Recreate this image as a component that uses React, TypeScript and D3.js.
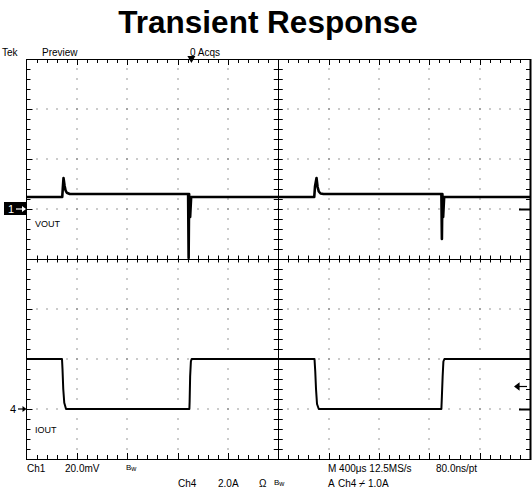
import React from 'react';
import * as d3 from 'd3';

const W = 532;
const H = 490;

const titleText = 'Transient Response';
const headerLabels = ['Tek', 'Preview', '0 Acqs'];
const ch1Label = 'VOUT';
const ch4Label = 'IOUT';

// time in microseconds, VOUT in mV (relative to Ch1 ground marker)
const voutT = [0, 284, 288, 294, 302, 310, 320, 344, 1284, 1288, 1292, 1300, 1308, 2286, 2292, 2304, 2312, 2322, 2336, 2360, 3296, 3300, 3304, 3310, 3318, 4000];
const voutMv = [4.8, 4.8, 8, 12.4, 9.5, 7.5, 6.5, 6.0, 6.0, -19.6, 6.0, -3.2, 4.8, 4.8, 9, 12.4, 9, 7, 6.2, 6.0, 6.0, -12, 6.0, -3.2, 4.8, 4.8];

// IOUT in A
const ioutT = [0, 282, 286, 292, 300, 314, 1294, 1296, 1300, 1306, 1312, 2288, 2294, 2300, 2308, 2322, 3296, 3300, 3306, 3312, 3320, 4000];
const ioutA = [2.0, 2.0, 1.6, 0.8, 0.25, 0.0, 0.0, 0.3, 1.3, 1.9, 2.0, 2.0, 1.5, 0.8, 0.2, 0.0, 0.0, 0.5, 1.3, 1.9, 2.0, 2.0];

const xDivs = 10;
const yDivs = 8;
const minorPerDiv = 5;
const timePerDiv = 400; // us
const ch1PerDiv = 20; // mV
const ch4PerDiv = 2; // A
const ch1OffsetDiv = 1;
const ch4OffsetDiv = -3;
const triggerTime = 1310;
const triggerLevelA = 0.9;

const L = 26.5, R = 530, T = 59, B = 459;
const FONT = '"Liberation Sans", Arial, sans-serif';

export default function App() {
  const x = d3.scaleLinear().domain([0, xDivs * timePerDiv]).range([L, R]);
  const yDiv = d3.scaleLinear().domain([-yDivs / 2, yDivs / 2]).range([B, T]);
  const xDivScale = d3.scaleLinear().domain([0, xDivs]).range([L, R]);
  const y1 = (v: number) => yDiv(ch1OffsetDiv + v / ch1PerDiv);
  const y4 = (a: number) => yDiv(ch4OffsetDiv + a / ch4PerDiv);

  const voutData = voutT.map((t, i) => [t, voutMv[i]] as [number, number]);
  const ioutData = ioutT.map((t, i) => [t, ioutA[i]] as [number, number]);
  const line1 = d3.line<[number, number]>().x(d => x(d[0])).y(d => y1(d[1]));
  const line4 = d3.line<[number, number]>().x(d => x(d[0])).y(d => y4(d[1]));

  const dots: JSX.Element[] = [];
  for (let i = 1; i < xDivs; i++) {
    if (i === xDivs / 2) continue;
    const xx = Math.round(xDivScale(i));
    for (let j = 1; j < yDivs * minorPerDiv; j++) {
      const yy = Math.round(yDiv(-yDivs / 2 + j / minorPerDiv));
      dots.push(<rect key={`v${i}-${j}`} x={xx - 0.5} y={yy - 0.5} width={1} height={1} fill="#333" />);
    }
  }
  for (let j = 1; j < yDivs; j++) {
    if (j === yDivs / 2) continue;
    const yy = Math.round(yDiv(-yDivs / 2 + j));
    for (let i = 1; i < xDivs * minorPerDiv; i++) {
      const xx = Math.round(xDivScale(i / minorPerDiv));
      dots.push(<rect key={`h${j}-${i}`} x={xx - 0.5} y={yy - 0.5} width={1} height={1} fill="#333" />);
    }
  }

  const ticks: JSX.Element[] = [];
  const cx = xDivScale(xDivs / 2);
  const cy = yDiv(0);
  for (let i = 1; i < xDivs * minorPerDiv; i++) {
    const xx = Math.round(xDivScale(i / minorPerDiv)) + 0.5;
    const major = i % minorPerDiv === 0;
    const len = major ? 6 : 4;
    ticks.push(<line key={`tt${i}`} x1={xx} x2={xx} y1={T} y2={T + len} />);
    ticks.push(<line key={`tb${i}`} x1={xx} x2={xx} y1={B} y2={B - len} />);
    ticks.push(<line key={`tc${i}`} x1={xx} x2={xx} y1={cy - 3.5} y2={cy + 3.5} />);
  }
  for (let j = 1; j < yDivs * minorPerDiv; j++) {
    const yy = Math.round(yDiv(-yDivs / 2 + j / minorPerDiv)) + 0.5;
    const major = j % minorPerDiv === 0;
    const len = major ? 6 : 4;
    ticks.push(<line key={`tl${j}`} x1={L} x2={L + len} y1={yy} y2={yy} />);
    ticks.push(<line key={`tr${j}`} x1={R} x2={R - len} y1={yy} y2={yy} />);
    ticks.push(<line key={`tv${j}`} x1={cx - 4.5} x2={cx + 4.5} y1={yy} y2={yy} />);
  }

  const g1 = y1(0);
  const g4 = y4(0);
  const trigX = x(triggerTime);
  const trigY = y4(triggerLevelA);

  return (
    <svg width={W} height={H} style={{ display: 'block', position: 'absolute', left: 0, top: 0 }} fontFamily={FONT}>
      <rect x={0} y={0} width={W} height={H} fill="#fff" />
      <text x={268} y={33} textAnchor="middle" fontSize={31.5} fontWeight="bold" fill="#000">{titleText}</text>

      <text x={2} y={56} fontSize={10} fill="#000">{headerLabels[0]}</text>
      <text x={42} y={56} fontSize={10} fill="#000">{headerLabels[1]}</text>
      <text x={190} y={56} fontSize={10} fill="#000">{headerLabels[2]}</text>

      {dots}
      <g stroke="#000" strokeWidth={1}>
        {ticks}
        <line x1={L} x2={R} y1={Math.round(cy) + 0.5} y2={Math.round(cy) + 0.5} />
        <line x1={Math.round(cx) + 0.5} x2={Math.round(cx) + 0.5} y1={T} y2={B} />
        <line x1={L} x2={R} y1={T + 0.5} y2={T + 0.5} />
        <line x1={L} x2={R} y1={B + 0.5} y2={B + 0.5} />
        <line x1={L} x2={L} y1={T} y2={B + 1} />
        <line x1={R + 0.5} x2={R + 0.5} y1={T} y2={B + 1} strokeWidth={2} />
        <line x1={R - 11} x2={R} y1={Math.round(g1) + 0.5} y2={Math.round(g1) + 0.5} strokeWidth={2} />
        <line x1={R - 11} x2={R} y1={Math.round(g4) + 0.5} y2={Math.round(g4) + 0.5} strokeWidth={2} />
      </g>

      <path d={line1(voutData) || ''} fill="none" stroke="#000" strokeWidth={2.6} strokeLinejoin="round" />
      <path d={line4(ioutData) || ''} fill="none" stroke="#000" strokeWidth={2} strokeLinejoin="round" />

      <polygon points={`${trigX - 4},${T - 3} ${trigX + 4},${T - 3} ${trigX},${T + 4}`} fill="#000" />
      <g stroke="#000" strokeWidth={1.2} fill="#000">
        <line x1={R - 14} x2={R - 3} y1={trigY} y2={trigY} />
        <polygon points={`${R - 15},${trigY} ${R - 11},${trigY - 3} ${R - 11},${trigY + 3}`} />
      </g>

      <rect x={4} y={g1 - 7} width={23} height={13} fill="#000" />
      <text x={8} y={g1 + 4} fontSize={11} fill="#fff">1</text>
      <line x1={16} x2={25} y1={g1} y2={g1} stroke="#fff" strokeWidth={1.2} />
      <polygon points={`${26},${g1} ${22},${g1 - 3} ${22},${g1 + 3}`} fill="#fff" />
      <text x={35} y={227} fontSize={9} fill="#000">{ch1Label}</text>

      <text x={10} y={g4 + 4} fontSize={11} fill="#000">4</text>
      <line x1={18} x2={25} y1={g4} y2={g4} stroke="#000" strokeWidth={1.2} />
      <polygon points={`${26.5},${g4} ${22.5},${g4 - 3} ${22.5},${g4 + 3}`} fill="#000" />
      <text x={35} y={433} fontSize={9} fill="#000">{ch4Label}</text>

      <g fontSize={10} fill="#000">
        <text x={27} y={472}>Ch1</text>
        <text x={65} y={472}>20.0mV</text>
        <text x={126} y={470} fontSize={8}>B<tspan fontSize={7} dy={1}>w</tspan></text>
        <text x={178} y={487}>Ch4</text>
        <text x={218} y={487}>2.0A</text>
        <text x={259} y={487}>Ω</text>
        <text x={274} y={485} fontSize={8}>B<tspan fontSize={7} dy={1}>w</tspan></text>
        <text x={328} y={472}>M 400μs 12.5MS/s</text>
        <text x={436} y={472}>80.0ns/pt</text>
        <text x={328} y={487}>A</text>
        <text x={338} y={487}>Ch4</text>
        <text x={359} y={487}>⌿</text>
        <text x={368} y={487}>1.0A</text>
      </g>
    </svg>
  );
}
